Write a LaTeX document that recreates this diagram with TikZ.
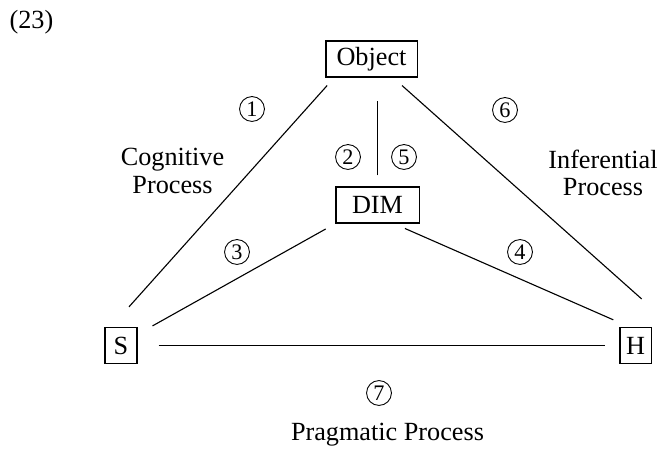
\documentclass[tikz,border=0pt]{standalone}
\usepackage{fontspec}
\setmainfont{Liberation Serif}

\begin{document}
\begin{tikzpicture}[x=0.45pt,y=-0.45pt,line width=0.5pt,
    every node/.style={font=\fontsize{11.8}{12.3}\selectfont},
    box/.style={draw,inner sep=0pt,minimum height=16.2pt},
    num/.style={circle,draw,line width=0.4pt,inner sep=0pt,minimum size=11.2pt,font=\fontsize{10}{10}\selectfont},
    lab/.style={align=center}]
       \useasboundingbox (0,0) rectangle (658,449);

       \node (ex) at (31.5,22.5) {(23)};

       \node[box,minimum width=41pt] (obj) at (371.5,59) {Object};
       \node[box,minimum width=37.4pt] (dim) at (377.5,205) {DIM};
       \node[box,minimum width=14.4pt] (S) at (121,345.5) {S};
       \node[box,minimum width=14pt] (H) at (635.5,345.5) {H};

       \draw[shorten <=12.1pt,shorten >=4.8pt] ([xshift=-4.5pt]S.north) -- ([xshift=4pt]obj.south west);
       \draw[shorten <=5.4pt,shorten >=6pt] ([xshift=9.7pt]obj.south) -- ([yshift=8.6pt]H.north east);
       \draw[shorten <=5pt,shorten >=10.4pt] (dim.north) -- (dim.north |- obj.south);
       \draw[shorten <=7.7pt,shorten >=5pt] ([yshift=-3.3pt]S.north east) -- (dim.south west);
       \draw[shorten <=5.5pt,shorten >=3pt] ([xshift=7.3pt]dim.south) -- ([yshift=2pt]H.north west);
       \draw[shorten <=9.5pt,shorten >=6.3pt] (S.east) -- (H.west);

       \node[num] (n1) at (252,109) {1};
       \node[num] (n2) at (348,157) {2};
       \node[num] (n3) at (237,252) {3};
       \node[num] (n4) at (520,252) {4};
       \node[num] (n5) at (404,157) {5};
       \node[num] (n6) at (505,110) {6};
       \node[num] (n7) at (379,393) {7};

       \node[lab] (cog) at (172.5,171) {Cognitive\\Process};
       \node[lab] (inf) at (603,173) {Inferential\\Process};
       \node[lab] (prag) at (387.5,435) {Pragmatic Process};
   \end{tikzpicture}
\end{document}
